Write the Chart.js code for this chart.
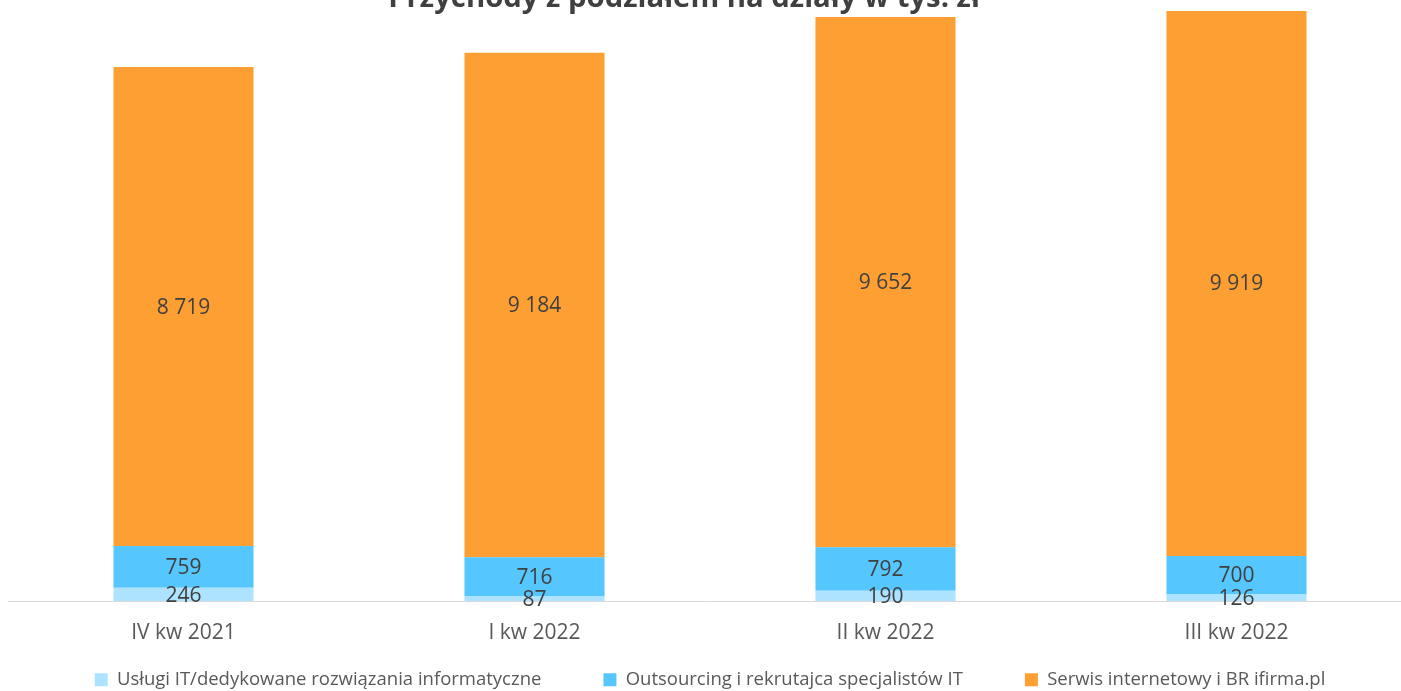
<html lang="pl">
<head>
    <meta charset="UTF-8">
    <title>Przychody z podziałem na działy</title>
    <script src="https://cdn.jsdelivr.net/npm/chart.js"></script>
    <style>
        body { margin: 0; background: #fff; overflow: hidden; }
        #wrap { position: absolute; left: 0; top: -50px; width: 1412px; height: 749px; }
    </style>
</head>
<body>
    <div id="wrap"><canvas id="revChart"></canvas></div>

    <script>
        const chartTitle = 'Przychody z podziałem na działy w tys. zł';
        const quarters = ['IV kw 2021', 'I kw 2022', 'II kw 2022', 'III kw 2022'];
        const seriesNames = [
            'Usługi IT/dedykowane rozwiązania informatyczne',
            'Outsourcing i rekrutajca specjalistów IT',
            'Serwis internetowy i BR ifirma.pl'
        ];
        const itServices = [246, 87, 190, 126];
        const outsourcing = [759, 716, 792, 700];
        const webService = [8719, 9184, 9652, 9919];
        const colors = ['#ADE3FE', '#55C7FE', '#FE9F33'];

        function fmt(v) {
            return String(v).replace(/\B(?=(\d{3})+(?!\d))/g, ' ');
        }

        // value labels in the middle of each segment
        const segLabels = {
            id: 'segLabels',
            afterDatasetsDraw(chart) {
                const ctx = chart.ctx;
                ctx.save();
                ctx.font = '21px "Open Sans"';
                ctx.fillStyle = '#404040';
                ctx.textAlign = 'center';
                ctx.textBaseline = 'middle';
                chart.data.datasets.forEach((ds, i) => {
                    chart.getDatasetMeta(i).data.forEach((bar, j) => {
                        const y = (bar.y + bar.base) / 2;
                        ctx.fillText(fmt(ds.data[j]), bar.x, y + 1);
                    });
                });
                ctx.restore();
            }
        };

        // title sits partly above the visible area, like the original
        const topTitle = {
            id: 'topTitle',
            afterDraw(chart) {
                const ctx = chart.ctx;
                ctx.save();
                ctx.font = 'bold 29.3px "Open Sans"';
                ctx.fillStyle = '#404040';
                ctx.textAlign = 'center';
                ctx.textBaseline = 'alphabetic';
                ctx.fillText(chartTitle, 684, 57);
                ctx.restore();
            }
        };

        new Chart(document.getElementById('revChart'), {
            type: 'bar',
            data: {
                labels: quarters,
                datasets: [
                    { label: seriesNames[0], data: itServices, backgroundColor: colors[0] },
                    { label: seriesNames[1], data: outsourcing, backgroundColor: colors[1] },
                    { label: seriesNames[2], data: webService, backgroundColor: colors[2] }
                ]
            },
            options: {
                responsive: true,
                maintainAspectRatio: false,
                animation: false,
                layout: { padding: { top: 47, left: 8, right: 0, bottom: 0 } },
                datasets: {
                    bar: { categoryPercentage: 1, barPercentage: 0.399, borderWidth: 0 }
                },
                scales: {
                    x: {
                        stacked: true,
                        grid: { display: false },
                        border: { display: true, color: '#D9D9D9', width: 1 },
                        ticks: { color: '#595959', font: { family: '"Open Sans"', size: 21 }, padding: 11 }
                    },
                    y: {
                        stacked: true,
                        display: false,
                        min: 0,
                        max: 11000
                    }
                },
                plugins: {
                    tooltip: { enabled: false },
                    legend: {
                        position: 'bottom',
                        labels: {
                            color: '#595959',
                            font: { family: '"Open Sans"', size: 18.5 },
                            boxWidth: 13,
                            boxHeight: 13,
                            padding: 14,
                            generateLabels(chart) {
                                const items = Chart.defaults.plugins.legend.labels.generateLabels(chart);
                                // widen the gaps between entries
                                items.forEach((it, i) => {
                                    if (i < items.length - 1) it.text = it.text + ' '.repeat(10);
                                });
                                return items;
                            }
                        }
                    }
                }
            },
            plugins: [segLabels, topTitle]
        });
    </script>
</body>
</html>
